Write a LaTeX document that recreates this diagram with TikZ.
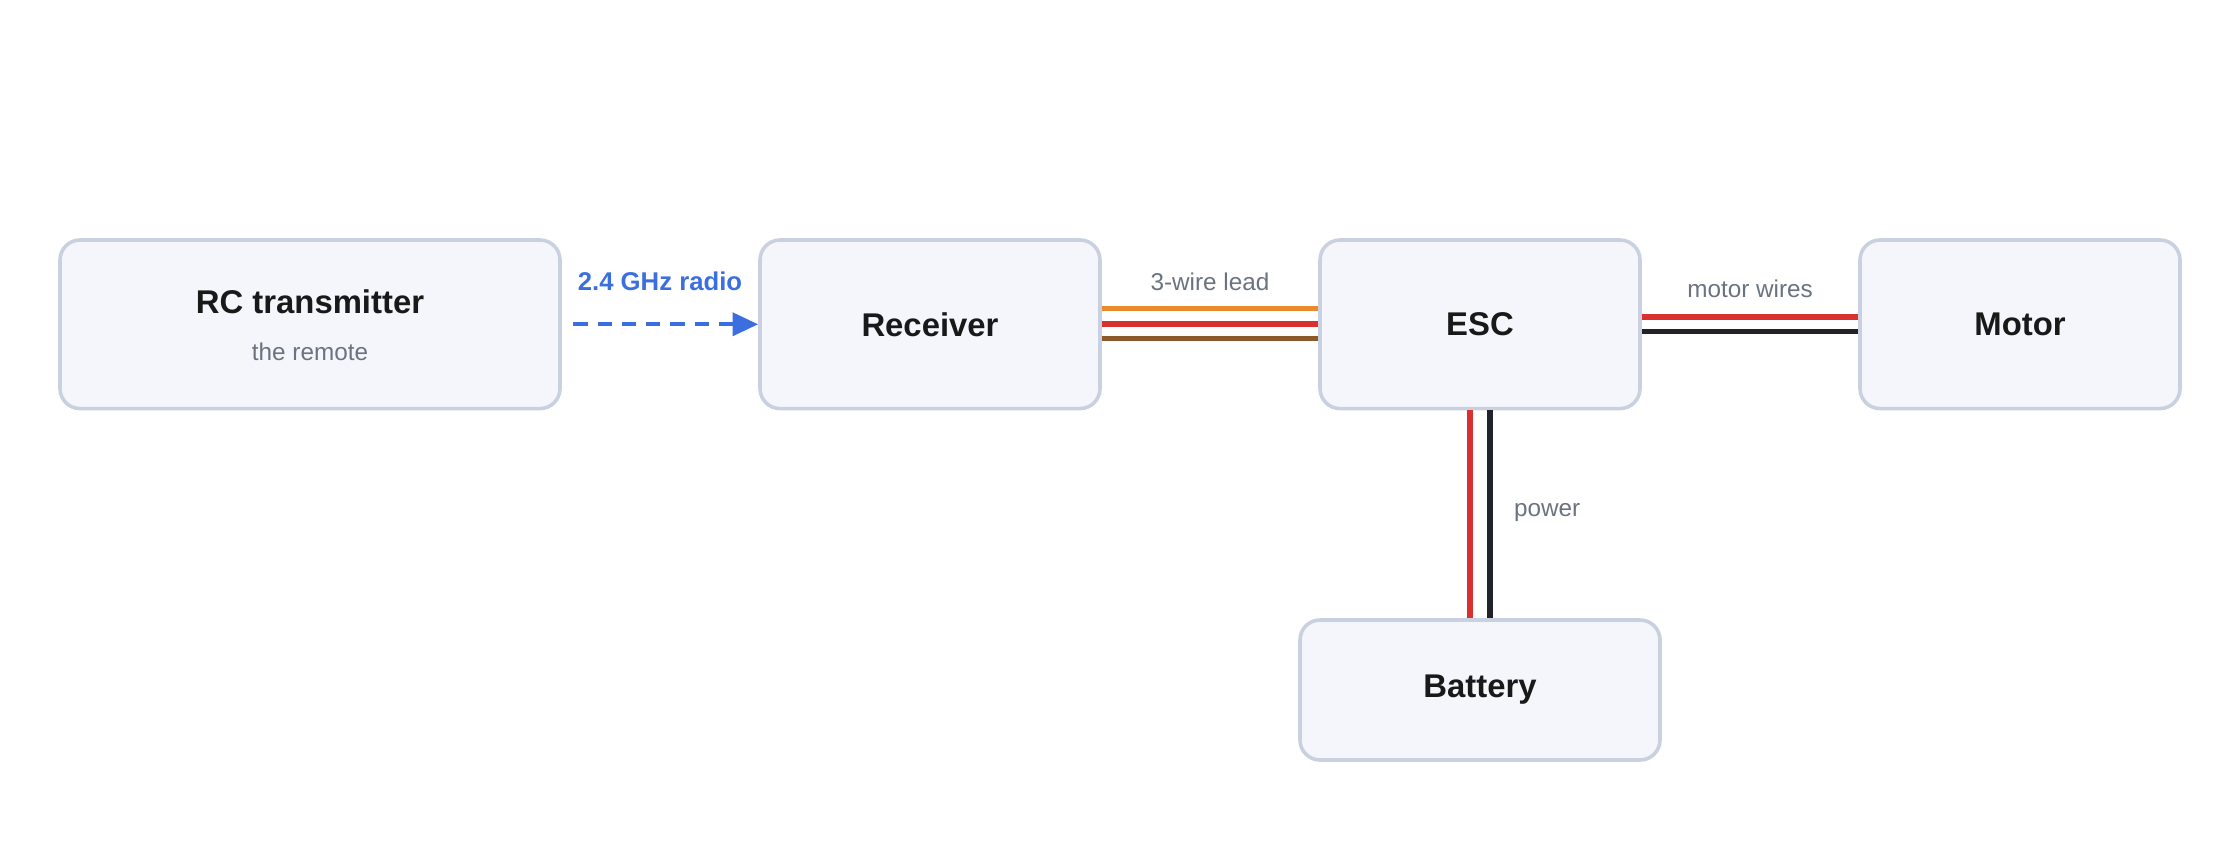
\documentclass[tikz,border=0pt]{standalone}
\usepackage{fontspec}
\setmainfont{Liberation Sans}
\usetikzlibrary{arrows.meta}
\definecolor{boxfill}{HTML}{F4F6FB}
\definecolor{boxline}{HTML}{C9D0E0}
\definecolor{radio}{HTML}{3B6FE0}
\definecolor{lbl}{HTML}{6B7280}
\definecolor{wred}{HTML}{D93030}
\definecolor{wblk}{HTML}{22222A}
\definecolor{worg}{HTML}{E88A30}
\definecolor{wbrn}{HTML}{8A5A2A}
\begin{document}
\begin{tikzpicture}[x=1pt,y=-1pt,
  box/.style={draw=boxline,line width=2.5pt,fill=boxfill,rounded corners=14pt,inner sep=0pt},
  title/.style={font=\fontsize{23}{27}\selectfont\bfseries,text=black!90},
  sub/.style={font=\fontsize{17}{20}\selectfont,text=lbl},
  wire/.style={line width=4pt}]
\useasboundingbox (0,0) rectangle (1568,602);
\node[box,minimum width=350pt,minimum height=118pt] (tx) at (217,227) {};
\node[title] (txt) at (217,211) {RC transmitter};
\node[sub] (txs) at (217,246) {the remote};
\node[box,minimum width=238pt,minimum height=118pt,title] (rec) at (651,227) {Receiver};
\node[box,minimum width=224pt,minimum height=118pt,title] (esc) at (1036,227) {ESC};
\node[box,minimum width=224pt,minimum height=118pt,title] (mot) at (1414,227) {Motor};
\node[box,minimum width=252pt,minimum height=98pt,title] (bat) at (1036,483) {Battery};
% radio
\draw[radio,line width=3pt,dash pattern=on 10pt off 7pt,-{Triangle[length=18pt,width=16pt]}] ([xshift=8pt]tx.east) -- (rec.west);
\node[font=\fontsize{18}{21}\selectfont\bfseries,text=radio] (rl) at (462,197) {2.4 GHz radio};
% 3-wire
\draw[wire,worg] ([yshift=11pt]rec.east) -- ([yshift=11pt]esc.west);
\draw[wire,wred] (rec.east) -- (esc.west);
\draw[wire,wbrn] ([yshift=-10pt]rec.east) -- ([yshift=-10pt]esc.west);
\node[sub] (l3) at (847,197) {3-wire lead};
% motor wires
\draw[wire,wred] ([yshift=5pt]esc.east) -- ([yshift=5pt]mot.west);
\draw[wire,wblk] ([yshift=-5pt]esc.east) -- ([yshift=-5pt]mot.west);
\node[sub] (lm) at (1225,202) {motor wires};
% power
\draw[wire,wred] ([xshift=-7pt]esc.south) -- ([xshift=-7pt]bat.north);
\draw[wire,wblk] ([xshift=7pt]esc.south) -- ([xshift=7pt]bat.north);
\node[sub] (lp) at (1083,359) {power};
\end{tikzpicture}
\end{document}
